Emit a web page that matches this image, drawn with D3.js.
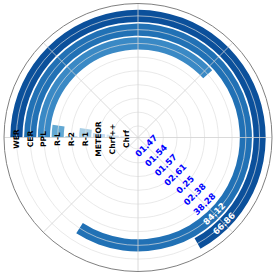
<!DOCTYPE html>
<html>
<head>
<meta charset="utf-8">
<script src="https://cdn.jsdelivr.net/npm/d3@7"></script>
<style>
  body { margin: 0; background: #fff; }
  svg { display: block; }
</style>
</head>
<body>
<svg id="chart"></svg>
<script>
// outermost ring first
const categories = ['WER', 'CER', 'PPL', 'R-L', 'R-2', 'R-1', 'METEOR', 'Chrf++', 'Chrf'];
const values = [66.86, 84.12, 38.28, 2.38, 0.25, 2.61, 1.57, 1.54, 1.47];
const valueLabels = ['66.86', '84.12', '38.28', '02.38', '0.25', '02.61', '01.57', '01.54', '01.47'];
const colors = ['#0b509b', '#2171b5', '#3a89c5', '#62a8d3', '#8fc1df', '#a9cfe6', '#c6dbef', '#d5e5f3', '#e1edf8'];

const width = 277, height = 277;
const cx = 138, cy = 137.5, outerR = 134;

const svg = d3.select('#chart')
  .attr('width', width)
  .attr('height', height);

const g = svg.append('g')
  .attr('transform', `translate(${cx},${cy})`);

// ring index: 0 = innermost (Chrf) ... 8 = outermost (WER)
const n = categories.length;
const ringIndex = i => n - 1 - i;

const rScale = d3.scaleLinear()
  .domain([-0.84, 8.9])
  .range([0, outerR]);

const barH = 0.88;

// bars start at the west and run clockwise, 100 = full circle
const angle = d3.scaleLinear()
  .domain([0, 100])
  .range([-Math.PI / 2, 3 * Math.PI / 2]);

const arc = d3.arc()
  .innerRadius(d => rScale(ringIndex(d) - barH / 2))
  .outerRadius(d => rScale(ringIndex(d) + barH / 2))
  .startAngle(angle(0))
  .endAngle(d => angle(values[d]));

g.selectAll('.bar')
  .data(d3.range(n))
  .enter().append('path')
  .attr('class', 'bar')
  .attr('d', arc)
  .attr('fill', d => colors[d]);

// grid on top of bars
g.selectAll('.ring')
  .data(d3.range(n))
  .enter().append('circle')
  .attr('class', 'ring')
  .attr('r', d => rScale(d))
  .attr('fill', 'none')
  .attr('stroke', '#dedede')
  .attr('stroke-opacity', 0.85)
  .attr('stroke-width', 0.8);

g.selectAll('.spoke')
  .data(d3.range(0, 360, 45))
  .enter().append('line')
  .attr('class', 'spoke')
  .attr('x1', 0).attr('y1', 0)
  .attr('x2', d => outerR * Math.cos(d * Math.PI / 180))
  .attr('y2', d => outerR * Math.sin(d * Math.PI / 180))
  .attr('stroke', '#d0d0d0')
  .attr('stroke-width', 0.8);

g.append('circle')
  .attr('r', outerR)
  .attr('fill', 'none')
  .attr('stroke', '#808080')
  .attr('stroke-width', 1);

// category labels along the west spoke
g.selectAll('.cat')
  .data(d3.range(n))
  .enter().append('text')
  .attr('class', 'cat')
  .attr('transform', d => `translate(${-rScale(ringIndex(d))},1.5) rotate(-90)`)
  .attr('text-anchor', 'middle')
  .attr('dominant-baseline', 'central')
  .style('font-family', 'DejaVu Sans')
  .style('font-weight', 'bold')
  .style('font-size', '7.6px')
  .attr('fill', '#000')
  .text(d => categories[d]);

// value labels along the south-east spoke
const diag = Math.SQRT1_2;
g.selectAll('.val')
  .data(d3.range(n))
  .enter().append('text')
  .attr('class', 'val')
  .attr('transform', d => {
    const r = rScale(ringIndex(d));
    return `translate(${r * diag},${r * diag}) rotate(-45)`;
  })
  .attr('text-anchor', 'middle')
  .attr('dominant-baseline', 'central')
  .style('font-family', 'DejaVu Sans')
  .style('font-weight', 'bold')
  .style('font-size', '8.6px')
  .attr('fill', d => values[d] > 60 ? '#fff' : '#0000ff')
  .text(d => valueLabels[d]);
</script>
</body>
</html>
